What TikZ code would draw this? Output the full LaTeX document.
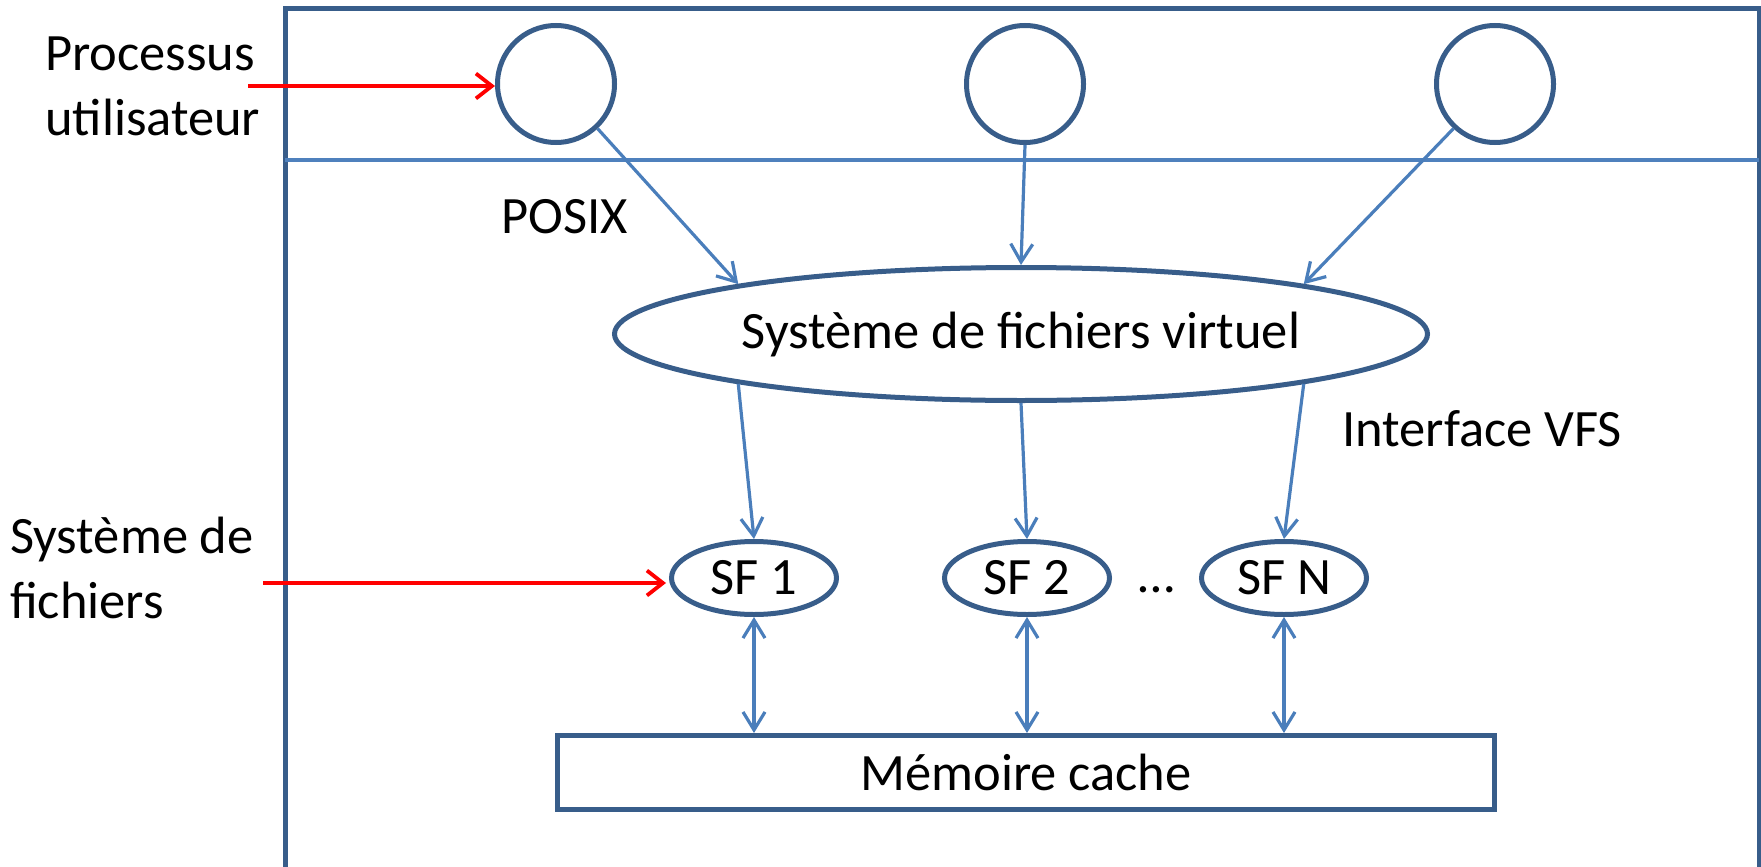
\documentclass[tikz,border=0pt]{standalone}
\usepackage{fontspec}
\setmainfont{Carlito}
\usetikzlibrary{arrows.meta,shapes.geometric}
\definecolor{outline}{RGB}{56,93,138}
\definecolor{link}{RGB}{74,126,187}
\definecolor{sepline}{RGB}{79,129,189}
\definecolor{pointer}{RGB}{255,0,0}
\begin{document}
\begin{tikzpicture}[x=1pt,y=-1pt,
  every node/.style={font=\fontsize{52.5}{65}\selectfont, inner sep=0pt},
  frame/.style={draw=outline, line width=5pt},
  sepstyle/.style={draw=sepline, line width=4.5pt},
  proc/.style={circle, draw=outline, line width=5pt, minimum size=117pt},
  vfsbox/.style={ellipse, draw=outline, line width=5pt, minimum width=813pt, minimum height=133pt},
  fsbox/.style={ellipse, draw=outline, line width=5pt, minimum width=165pt, minimum height=73pt},
  cachebox/.style={rectangle, draw=outline, line width=5pt, minimum width=937pt, minimum height=74pt},
  barb/.style={Straight Barb[length=18pt,width=22pt,line width=3.2pt]},
  flow/.style={draw=link, line width=3.2pt, -{Straight Barb[length=18pt,width=22pt,line width=3.2pt]}},
  flowboth/.style={draw=link, line width=3.2pt, {Straight Barb[length=18pt,width=22pt,line width=3.2pt]}-{Straight Barb[length=18pt,width=22pt,line width=3.2pt]}},
  pointerarrow/.style={draw=pointer, line width=3.8pt, -{Straight Barb[length=16pt,width=25pt,line width=3.8pt]}}
]
\useasboundingbox (0,0) rectangle (1761,867);

% kernel frame (open at the bottom) and user/kernel separator
\draw[frame] (285,867) -- (285,9) -- (1759,9) -- (1759,867);
\draw[sepstyle] (285,160) -- (1759,160);

% user processes
\node[proc] (p1) at (556,84) {};
\node[proc] (p2) at (1025,84) {};
\node[proc] (p3) at (1495,84) {};

% virtual file system
\node[vfsbox] (vfs) at (1021,334) {Système de fichiers virtuel};

% concrete file systems
\node[fsbox] (sf1) at (754,578) {SF 1};
\node[fsbox] (sf2) at (1027,578) {SF 2};
\node[fsbox] (sfn) at (1284,578) {SF N};
\node[anchor=base] (dots) at (1157,592) {…};

% buffer cache
\node[cachebox] (cache) at (1026,772.5) {Mémoire cache};

% labels
\node[anchor=west, align=left] (lproc) at (45,86.5) {Processus\\utilisateur};
\node[anchor=west, align=left] (lfs) at (10,567.5) {Système de\\fichiers};
\node[anchor=base west] (posix) at (501,233) {POSIX};
\node[anchor=base west] (ivfs) at (1342,446) {Interface VFS};

% system calls into the VFS
\draw[flow] (p1.-47) -- (vfs.170);
\draw[flow] (p2.south) -- (vfs.north);
\draw[flow] (p3.-133) -- (vfs.10);

% VFS interface towards each file system
\draw[flow] (vfs.190) -- (sf1.north);
\draw[flow] (vfs.south) -- (sf2.north);
\draw[flow] (vfs.350) -- (sfn.north);

% exchanges with the cache
\draw[flowboth] (sf1.south) -- (sf1.south |- cache.north);
\draw[flowboth] (sf2.south) -- (sf2.south |- cache.north);
\draw[flowboth] (sfn.south) -- (sfn.south |- cache.north);

% pointers from the side labels
\coordinate (r1) at (248,86);
\coordinate (r2) at (263,583);
\draw[pointerarrow] (r1) -- (r1 -| p1.west);
\draw[pointerarrow, shorten >=3pt] (r2) -- (r2 -| sf1.west);
\end{tikzpicture}
\end{document}
